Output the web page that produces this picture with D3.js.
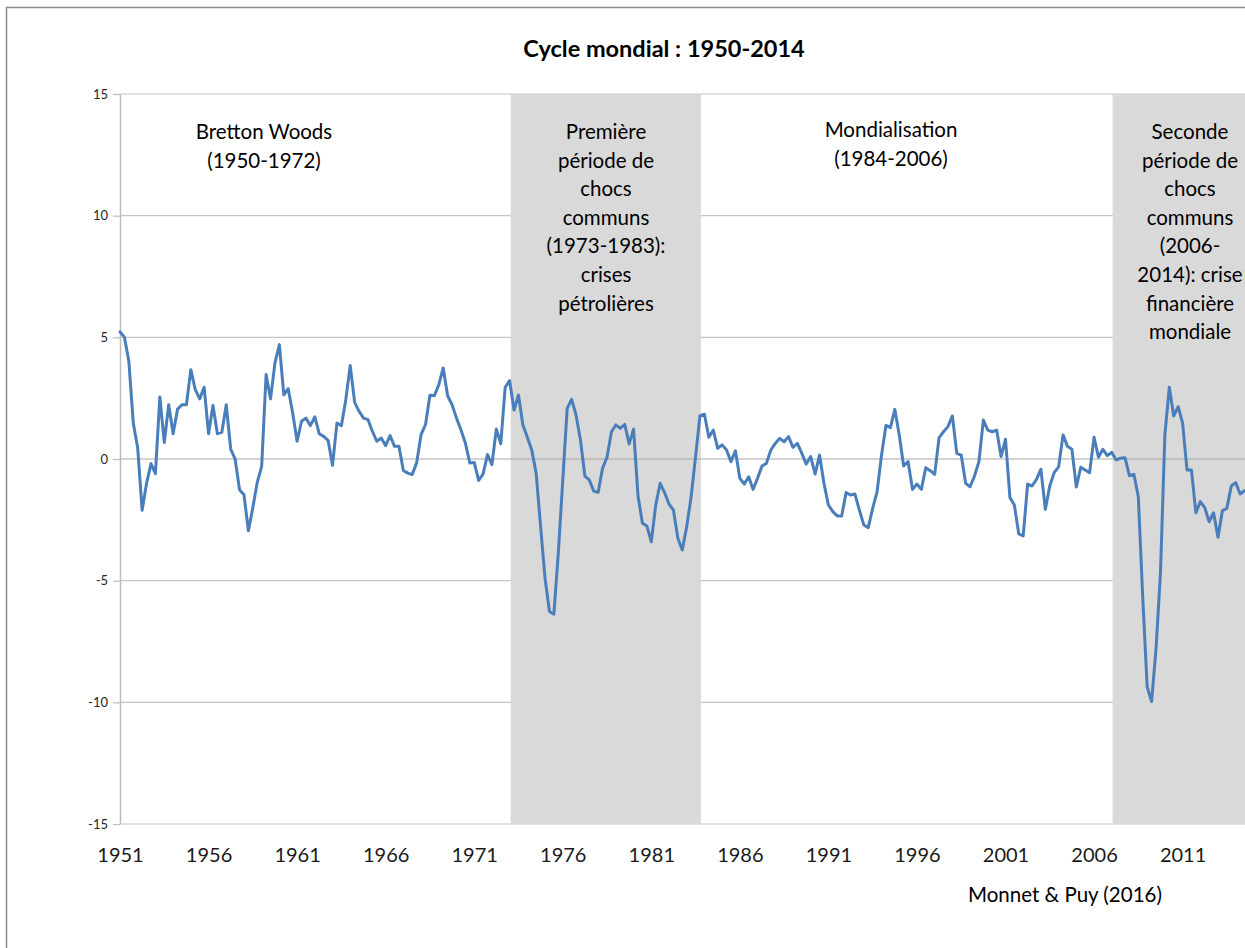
<!DOCTYPE html>
<html><head><meta charset="utf-8">
<script src="https://cdn.jsdelivr.net/npm/d3@7"></script>
<style>
body{margin:0;background:#fff;overflow:hidden;}
svg{display:block;font-family:Lato,"Open Sans",sans-serif;}
</style>
</head><body><svg id="chart" width="1245" height="948"></svg>
<script>
// ---- data ----
const startYear = 1951; // first quarter: 1951 Q1, quarterly series
const values = [
 5.23,5.01,4.01,1.48,0.45,-2.11,-1.0,-0.19,-0.6,2.55,
 0.68,2.23,1.04,2.05,2.23,2.23,3.67,2.85,2.47,2.95,
 1.04,2.2,1.04,1.1,2.23,0.41,0.0,-1.26,-1.47,-2.95,
 -2.0,-0.96,-0.3,3.47,2.47,3.95,4.7,2.64,2.89,1.89,
 0.73,1.55,1.68,1.37,1.73,1.04,0.93,0.77,-0.26,1.48,
 1.37,2.44,3.84,2.33,1.96,1.68,1.62,1.14,0.73,0.86,
 0.55,0.96,0.52,0.52,-0.47,-0.58,-0.64,-0.16,1.0,1.41,
 2.62,2.60,3.05,3.74,2.60,2.23,1.68,1.2,0.66,-0.16,
 -0.14,-0.88,-0.62,0.18,-0.23,1.23,0.62,2.95,3.22,2.01,
 2.63,1.40,0.89,0.37,-0.59,-2.78,-4.90,-6.27,-6.38,-3.86,
 -0.89,2.08,2.45,1.81,0.78,-0.70,-0.86,-1.32,-1.37,-0.38,
 0.07,1.12,1.40,1.26,1.42,0.62,1.23,-1.52,-2.64,-2.75,
 -3.40,-1.89,-1.0,-1.38,-1.85,-2.10,-3.26,-3.74,-2.78,-1.55,
 0.10,1.78,1.84,0.89,1.19,0.44,0.58,0.37,-0.11,0.34,
 -0.79,-1.03,-0.73,-1.25,-0.79,-0.29,-0.18,0.37,0.64,0.85,
 0.71,0.92,0.48,0.64,0.23,-0.21,0.10,-0.62,0.16,-1.0,
 -1.89,-2.16,-2.34,-2.34,-1.38,-1.48,-1.44,-2.10,-2.71,-2.82,
 -2.03,-1.34,0.16,1.38,1.29,2.04,0.99,-0.29,-0.11,-1.25,
 -1.03,-1.25,-0.36,-0.48,-0.63,0.88,1.12,1.33,1.77,0.23,
 0.16,-1.0,-1.14,-0.70,-0.11,1.60,1.19,1.12,1.19,0.10,
 0.81,-1.58,-1.89,-3.08,-3.16,-1.03,-1.11,-0.84,-0.42,-2.07,
 -1.11,-0.56,-0.32,0.99,0.52,0.40,-1.15,-0.34,-0.45,-0.56,
 0.89,0.07,0.40,0.14,0.27,-0.04,0.03,0.05,-0.68,-0.63,
 -1.55,-5.7,-9.36,-9.97,-7.8,-4.7,0.99,2.95,1.77,2.15,
 1.47,-0.45,-0.45,-2.21,-1.75,-2.0,-2.58,-2.21,-3.22,-2.12,
 -2.03,-1.11,-0.97,-1.44,-1.30
];
const tickYears = [1951,1956,1961,1966,1971,1976,1981,1986,1991,1996,2001,2006,2011];
const yTicks = [-15,-10,-5,0,5,10,15];
const shadedStart = [1973.06, 2007.05];
const shadedEnd   = [1983.80, 2015.50];
const labelBretton = ["Bretton Woods","(1950-1972)"];
const labelChocs1 = ["Première","période de","chocs","communs","(1973-1983):","crises","pétrolières"];
const labelMondial = ["Mondialisation","(1984-2006)"];
const labelChocs2 = ["Seconde","période de","chocs","communs","(2006-","2014): crise","financière","mondiale"];
const titleText = "Cycle mondial : 1950-2014";
const sourceText = "Monnet & Puy (2016)";

// ---- layout ----
const svg = d3.select("#chart");
const plotL = 120, plotT = 94, plotB = 824;
const x = d3.scaleLinear().domain([startYear, startYear + 255/4]).range([plotL, 1249]);
const y = d3.scaleLinear().domain([-15, 15]).range([plotB, plotT]);
const series = values.map((v, i) => ({t: startYear + i/4, v}));

// outer chart border
svg.append("rect").attr("x", 6.5).attr("y", 7.5).attr("width", 1400).attr("height", 1100)
  .attr("fill", "#fff").attr("stroke", "#8a8a8a").attr("stroke-width", 1.5);

// gridlines
svg.append("g").selectAll("line").data(yTicks.filter(d => d !== 0)).join("line")
  .attr("x1", plotL).attr("x2", 1300)
  .attr("y1", d => y(d)).attr("y2", d => y(d))
  .attr("stroke", "#c4c4c4").attr("stroke-width", 1.2);

// shaded periods
svg.append("g").selectAll("rect").data(d3.range(shadedStart.length)).join("rect")
  .attr("x", i => x(shadedStart[i]))
  .attr("width", i => x(shadedEnd[i]) - x(shadedStart[i]))
  .attr("y", y(15)).attr("height", y(-15) - y(15))
  .attr("fill", "#d9d9d9");

// y axis
const yAxis = svg.append("g").attr("transform", `translate(${plotL},0)`)
  .call(d3.axisLeft(y).tickValues(yTicks).tickFormat(d => String(d)).tickSize(7).tickSizeOuter(0).tickPadding(5));
yAxis.select(".domain").attr("stroke", "#bdbdbd").attr("stroke-width", 1.5);
yAxis.selectAll(".tick line").attr("stroke", "#bdbdbd").attr("stroke-width", 1.2);
yAxis.selectAll(".tick text").attr("font-family", "Lato").attr("font-size", 13).attr("fill", "#262626");

// horizontal category axis (crosses at 0)
svg.append("line").attr("x1", plotL).attr("x2", 1300).attr("y1", y(0)).attr("y2", y(0))
  .attr("stroke", "#a8a8a8").attr("stroke-width", 1.2);

// x labels (low position)
const xAxis = svg.append("g").attr("transform", `translate(0,${plotB})`)
  .call(d3.axisBottom(x).tickValues(tickYears).tickFormat(d => String(d)).tickSize(0).tickPadding(0));
xAxis.select(".domain").remove();
xAxis.selectAll(".tick text").attr("dy", null).attr("y", 38)
  .attr("font-family", "Lato").attr("font-size", 20).attr("fill", "#1a1a1a");

// data line
svg.append("path").datum(series)
  .attr("fill", "none").attr("stroke", "#4a7ebb").attr("stroke-width", 3)
  .attr("stroke-linejoin", "round").attr("stroke-linecap", "round")
  .attr("d", d3.line().x(d => x(d.t)).y(d => y(d.v)));

// title
svg.append("text").attr("x", 664).attr("y", 57).attr("text-anchor", "middle")
  .attr("font-size", 23.5).attr("font-weight", "bold").attr("fill", "#000").text(titleText);

// annotations
function block(lines, cx, top, lh) {
  svg.append("g").selectAll("text").data(lines).join("text")
    .attr("x", cx).attr("y", (d, i) => top + i * lh)
    .attr("text-anchor", "middle").attr("font-size", 20.5).attr("fill", "#000")
    .text(d => d);
}
block(labelBretton, 264, 139, 29);
block(labelChocs1, 606, 139, 28.6);
block(labelMondial, 891, 137, 29);
block(labelChocs2, 1190, 139, 28.6);

// source
svg.append("text").attr("x", 968).attr("y", 902).attr("font-size", 20.5).attr("fill", "#000").text(sourceText);
</script>
</body></html>
